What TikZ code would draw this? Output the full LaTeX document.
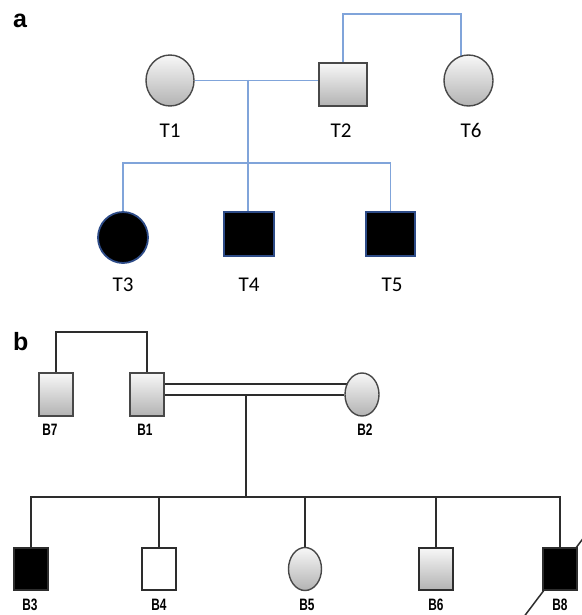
\documentclass[tikz,border=0pt]{standalone}
\usepackage{fontspec}
\newfontfamily\labfont{Carlito}
\newfontfamily\narrowfont[FakeStretch=0.72]{Liberation Sans}
\newfontfamily\panelfont{Liberation Sans}
\usetikzlibrary{shapes.geometric,backgrounds,calc}

\definecolor{linkblue}{RGB}{128,164,218}
\definecolor{rimgray}{RGB}{72,72,72}
\definecolor{rimblue}{RGB}{45,75,135}
\definecolor{linkgray}{RGB}{45,45,45}

\begin{document}
\begin{tikzpicture}[x=1pt,y=-1pt,
	person/.style={draw=rimgray,line width=1.4pt,inner sep=0pt,top color=gray!6,bottom color=gray!60},
	amale/.style={person,rectangle,minimum width=48pt,minimum height=43pt},
	afemale/.style={person,ellipse,minimum width=48pt,minimum height=51pt},
	asick/.style={draw=rimblue,fill=black,line width=1.8pt,inner sep=0pt},
	bmale/.style={person,rectangle,minimum width=34pt,minimum height=43pt},
	bfemale/.style={person,ellipse,minimum width=34pt,minimum height=43pt},
	bkid/.style={rectangle,draw=linkgray,line width=1.4pt,inner sep=0pt,minimum width=34pt,minimum height=42pt},
	tlab/.style={font=\labfont\fontsize{21}{21}\selectfont,anchor=base,inner sep=0pt},
	blab/.style={font=\narrowfont\bfseries\fontsize{16.5}{16.5}\selectfont,anchor=base,inner sep=0pt},
	panel/.style={font=\panelfont\bfseries\fontsize{25}{25}\selectfont,anchor=base west,inner sep=0pt},
	alink/.style={draw=linkblue,line width=1.5pt},
	blink/.style={draw=linkgray,line width=2pt}]
	\useasboundingbox (0,0) rectangle (581,615);
	% panel a
	\node[panel] (pa) at (13,28) {a};
	\node[afemale] (t1) at (170,80.5) {};
	\node[amale] (t2) at (343,84.5) {};
	\node[afemale,minimum width=49pt] (t6) at (468.5,80.5) {};
	\node[asick,ellipse,minimum width=50pt,minimum height=51pt] (t3) at (123,237.5) {};
	\node[asick,rectangle,minimum width=50pt,minimum height=44pt] (t4) at (249,234) {};
	\node[asick,rectangle,minimum width=49pt,minimum height=44pt] (t5) at (390.5,234) {};
	\node[tlab] (t1l) at (170,137) {T1};
	\node[tlab] (t2l) at (341,137) {T2};
	\node[tlab] (t6l) at (471,137) {T6};
	\node[tlab] (t3l) at (123,291) {T3};
	\node[tlab] (t4l) at (249,291) {T4};
	\node[tlab] (t5l) at (392,291) {T5};
	% panel b
	\node[panel] (pb) at (13,350) {b};
	\node[bmale] (b7) at (56,394.5) {};
	\node[bmale] (b1) at (147,394.5) {};
	\node[bfemale] (b2) at (362,394.5) {};
	\node[bkid,fill=black] (b3) at (31,569) {};
	\node[bkid,fill=white] (b4) at (159,569) {};
	\node[bfemale,minimum width=33pt] (b5) at (305,569) {};
	\node[bkid,top color=gray!6,bottom color=gray!60] (b6) at (436,569) {};
	\node[bkid,fill=black] (b8) at (560,569) {};
	\node[blab] (b7l) at (50,435) {B7};
	\node[blab] (b1l) at (145,435) {B1};
	\node[blab] (b2l) at (365,435) {B2};
	\node[blab] (b3l) at (30,610) {B3};
	\node[blab] (b4l) at (159,610) {B4};
	\node[blab] (b5l) at (307,610) {B5};
	\node[blab] (b6l) at (436,610) {B6};
	\node[blab] (b8l) at (560,610) {B8};
	\begin{scope}[on background layer]
		\fill[white] (0,0) rectangle (581,615);
		% lines of panel a
		\coordinate (ma) at (248,80);
		\coordinate (sa) at (248,163);
		\coordinate (ua) at (461,14);
		\draw[alink] (t1) -- (t1 -| t2);
		\draw[alink] (ma) -- (sa);
		\draw[alink] (t3) |- (sa) -| (t5);
		\draw[alink] (sa) -- (sa |- t4);
		\draw[alink] (t2) |- (ua) -- (ua |- t6);
		% lines of panel b
		\coordinate (ub) at (100,332);
		\coordinate (sb) at (246,497);
		\draw[blink] (b7) |- (ub) -| (b1);
		\draw[blink] (b1) -- (b2);
		\draw[blink] ([yshift=11pt]b1.center) -- ([yshift=11pt]b2.center);
		\draw[blink] (sb |- b1) -- (sb);
		\draw[blink] (b3) |- (sb) -| (b8);
		\foreach \k in {b4,b5,b6}
			\draw[blink] (\k) -- (\k |- sb);
		% deceased
		\draw[linkgray,line width=1.5pt] ($(b8)+(-37,49)$) -- ($(b8)+(37,-49)$);
	\end{scope}
\end{tikzpicture}
\end{document}
